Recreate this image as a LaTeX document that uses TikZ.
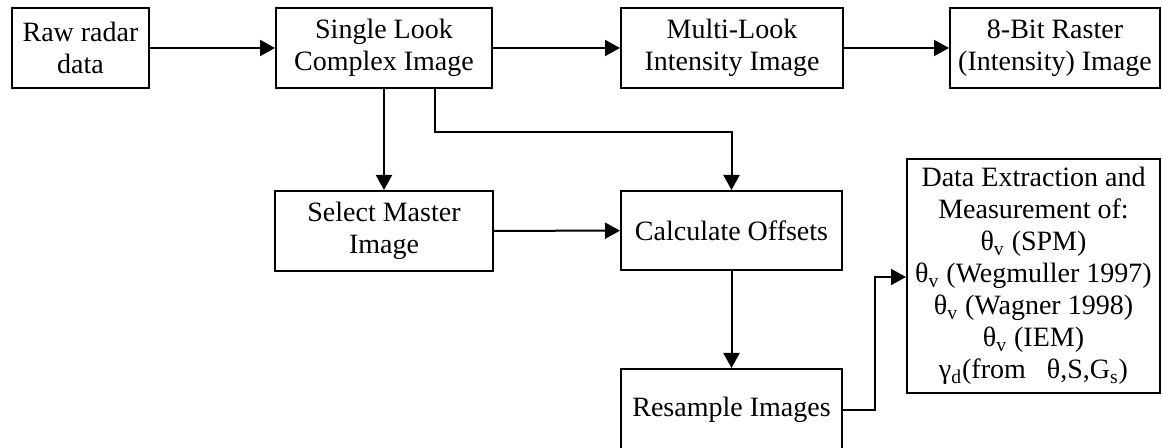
\documentclass[tikz,border=0pt]{standalone}
\usepackage{fontspec}
\setmainfont{Liberation Serif}
\usetikzlibrary{arrows.meta}

\begin{document}
\begin{tikzpicture}[x=0.5pt, y=-0.5pt, >={Triangle[length=7.5pt,width=8pt]},
    box/.style={rectangle, draw, line width=1pt, align=center, inner sep=0pt, font=\fontsize{14}{16}\selectfont},
    flow/.style={->, line width=1pt}]
\useasboundingbox (0,0) rectangle (1162,448);
\clip (0,0) rectangle (1162,448);
\node[box, minimum width=68.5pt, minimum height=40pt] (raw) at (80.5, 48) {Raw radar\\data};
\node[box, minimum width=108pt, minimum height=40pt] (slc) at (384, 48) {Single Look\\Complex Image};
\node[box, minimum width=111pt, minimum height=40pt] (mli) at (732, 48) {Multi-Look\\Intensity Image};
\node[box, minimum width=105pt, minimum height=40pt] (raster) at (1055, 48) {8-Bit Raster\\(Intensity) Image};
\node[box, minimum width=109pt, minimum height=40pt] (master) at (384, 231) {Select Master\\Image};
\node[box, minimum width=110.5pt, minimum height=39.5pt] (offsets) at (731.5, 230.5) {Calculate Offsets};
\node[box, minimum width=110.5pt, minimum height=41pt] (resample) at (731.5, 410) {Resample Images};
\node[box, minimum width=126.5pt, minimum height=117pt] (data) at (1033.5, 276) {Data Extraction and\\Measurement of:\\θ\textsubscript{v} (SPM)\\θ\textsubscript{v} (Wegmuller 1997)\\θ\textsubscript{v} (Wagner 1998)\\θ\textsubscript{v} (IEM)\\γ\textsubscript{d}(from\ \ \ θ,S,G\textsubscript{s})};

\coordinate (split) at (435, 132);
\coordinate (jog) at (875, 277);

\draw[flow] (raw) -- (slc);
\draw[flow] (slc) -- (mli);
\draw[flow] (mli) -- (raster);
\draw[flow] (slc) -- (master);
\draw[flow] (slc.south -| split) -- (split) -| (offsets.north);
\draw[flow] (master) -- (offsets);
\draw[flow] (offsets) -- (resample);
\draw[flow] (resample.east) -| (jog) -- (jog -| data.west);
\end{tikzpicture}
\end{document}
